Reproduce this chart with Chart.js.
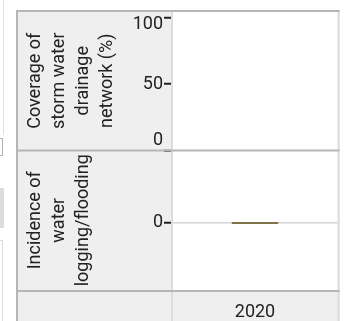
<!DOCTYPE html>
<html>
<head>
<meta charset="utf-8">
<script src="https://cdn.jsdelivr.net/npm/chart.js@4.4.0/dist/chart.umd.min.js"></script>
<style>
  body { margin: 0; width: 345px; height: 321px; overflow: hidden; position: relative; background: #fff; }
  #wrap { position: absolute; left: 16px; top: 10px; width: 324px; height: 331px; background: #efefef; }
  .edge { position: absolute; box-sizing: border-box; }
</style>
</head>
<body>
<!-- bits of neighbouring widgets cut off at the left edge -->
<div class="edge" style="left:3px;top:0;width:1px;height:135px;background:#e0e0e0"></div>
<div class="edge" style="left:-5px;top:138px;width:8px;height:18px;border:1px solid #b0b0b0"></div>
<div class="edge" style="left:0;top:188px;width:4px;height:40px;background:#dcdcdc"></div>
<div class="edge" style="left:-5px;top:240px;width:8px;height:100px;border:1px solid #dcdcdc"></div>

<div id="wrap"><canvas id="chart"></canvas></div>

<script>
const categories = ['2020'];
const coverage = [null];          // Coverage of storm water drainage network (%)
const incidence = [0];            // Incidence of water logging/flooding
const coverageTicks = [0, 50, 100];
const incidenceTicks = [0];
const coverageTitle = ['Coverage of', 'storm water', 'drainage', 'network (%)'];
const incidenceTitle = ['Incidence of', 'water', 'logging/flooding'];

Chart.defaults.font.family = 'Roboto';
Chart.defaults.color = '#222';

const panels = {
    id: 'panels',
    beforeDraw(chart) {
        const {ctx, chartArea: a} = chart;
        ctx.save();
        ctx.fillStyle = '#fff';
        ctx.fillRect(a.left, a.top, a.right - a.left, a.bottom - a.top);
        ctx.restore();
    },
    afterDraw(chart) {
        const {ctx, chartArea: a, width, height} = chart;
        const mid = chart.scales.y1.bottom;
        ctx.save();
        ctx.fillStyle = '#dcdcdc';
        ctx.fillRect(a.left - 1, 0, 2, height);
        ctx.fillRect(a.right - 0.5, 0, 2, height);
        ctx.fillStyle = '#b6b6b6';
        ctx.fillRect(0, 0, 2, height);
        ctx.fillRect(0, 0, a.right + 1.5, 2);
        ctx.fillRect(0, mid - 1, a.right + 1.5, 2);
        ctx.fillRect(0, a.bottom, a.right + 1.5, 2);
        ctx.restore();
    }
};

// first and last labels sit flush inside the panel (end ones pushed inward)
function flushLabel(value, index, ticks) {
    if (ticks.length < 2) return String(value);
    if (index === 0) return [String(value), ''];
    if (index === ticks.length - 1) return ['', String(value)];
    return String(value);
}

function yAxis(ticks, title, min, max, gridOn) {
    return {
        type: 'linear',
        position: 'left',
        stack: 'rows',
        stackWeight: 1,
        min, max,
        afterBuildTicks: s => { s.ticks = ticks.map(v => ({value: v})); },
        afterFit: s => {
            s.width = 156;
            s.paddingTop = 0;
            s.paddingBottom = 0;
        },
        border: { display: false },
        grid: {
            drawOnChartArea: gridOn,
            color: '#d6d6d6',
            lineWidth: 1.5,
            tickLength: 8,
            tickColor: '#222',
            tickWidth: 2
        },
        ticks: {
            callback: flushLabel,
            autoSkip: false,
            padding: 1,
            font: c => {
                const n = ticks.length;
                let lh = '22px';
                if (n > 1 && c.index === 0) lh = '20px';
                if (n > 1 && c.index === n - 1) lh = '14px';
                return { size: 18, lineHeight: lh };
            }
        },
        title: {
            display: true,
            text: title,
            font: { size: 18, lineHeight: '24px' },
            padding: { top: 7, bottom: 0 }
        }
    };
}

const ctx = document.getElementById('chart').getContext('2d');
new Chart(ctx, {
    type: 'bar',
    data: {
        labels: categories,
        datasets: [
            {
                label: 'Coverage of storm water drainage network (%)',
                data: coverage,
                yAxisID: 'y1',
                backgroundColor: '#7f7448',
                grouped: false
            },
            {
                label: 'Incidence of water logging/flooding',
                data: incidence,
                yAxisID: 'y2',
                backgroundColor: '#7f7448',
                grouped: false,
                minBarLength: 2,
                barPercentage: 0.28,
                categoryPercentage: 1
            }
        ]
    },
    plugins: [panels],
    options: {
        responsive: true,
        maintainAspectRatio: false,
        animation: false,
        layout: { padding: { top: 1, right: 2 } },
        plugins: {
            legend: { display: false },
            tooltip: { enabled: false }
        },
        scales: {
            x: {
                afterFit: s => {
                    s.height = 51;
                    s.paddingLeft = 0;
                    s.paddingRight = 0;
                },
                border: { display: false },
                grid: { display: false },
                ticks: { font: { size: 18 }, padding: 4 }
            },
            y2: yAxis(incidenceTicks, incidenceTitle, -1, 1.08, true),
            y1: yAxis(coverageTicks, coverageTitle, 0, 105, false)
        }
    }
});
</script>
</body>
</html>
